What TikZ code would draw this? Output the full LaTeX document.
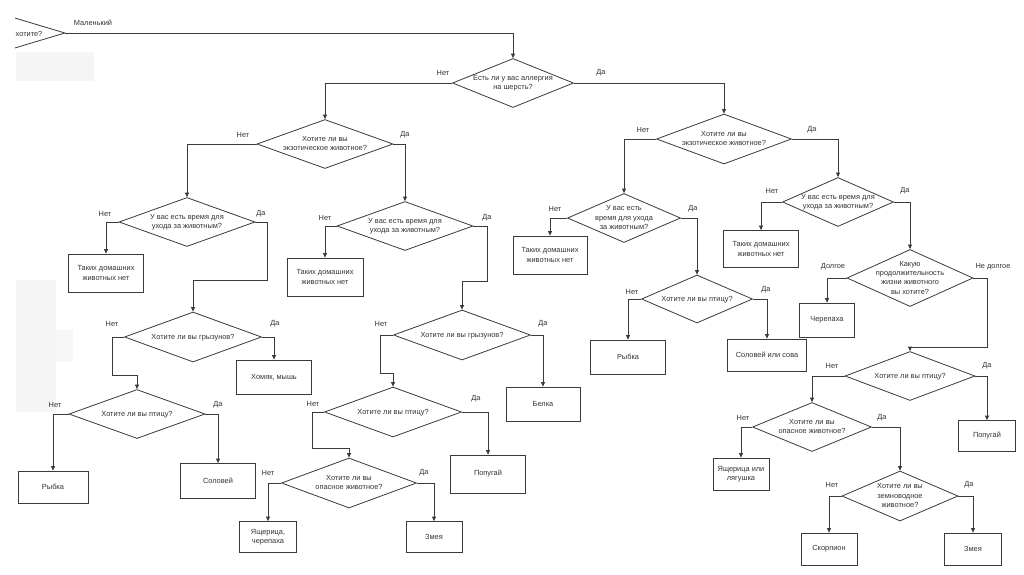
\documentclass[tikz,border=0pt]{standalone}
\usepackage{fontspec}
\setmainfont{Liberation Sans}
\usetikzlibrary{shapes.geometric,arrows.meta}
\definecolor{lc}{HTML}{3A3A3A}
\definecolor{tc}{HTML}{333333}
\newcommand{\dq}[1]{\makebox[0pt]{\smash{\raisebox{-2pt}{\begin{tabular}{@{}c@{}}#1\end{tabular}}}}}
\tikzset{
  dec/.style={diamond, draw=lc, fill=white, line width=0.8pt, inner sep=0pt, text=tc},
  res/.style={rectangle, draw=lc, fill=white, line width=0.8pt, inner sep=0pt, align=center, text=tc},
  lab/.style={inner sep=0pt, text=tc},
  con/.style={draw=lc, line width=0.8pt, -{Triangle[length=4.5pt,width=4pt]}},
  patch/.style={fill=black!4, draw=none}
}
\begin{document}
\begin{tikzpicture}[x=1pt,y=-1pt,font=\fontsize{7.4}{9.3}\selectfont]
\useasboundingbox (0,0) rectangle (1024,574);
\fill[white] (0,0) rectangle (1024,574);
% faint patches
\fill[patch] (16,52) rectangle (94,81);
\fill[patch] (16,280) rectangle (56,412);
\fill[black!3] (56,330) rectangle (73,362);

% partial first question
\begin{scope}
\clip (15,0) rectangle (200,100);
\node[dec, minimum width=166pt, minimum height=50pt] (d0) at (-18,33) {};
\end{scope}
\node[lab] (t0) at (29,34) {хотите?};

% diamonds
\node[dec, minimum width=121pt, minimum height=49pt] (d1) at (513,83) {\dq{Есть ли у вас аллергия\\на шерсть?}};
\node[dec, minimum width=136pt, minimum height=49pt] (d2) at (325,144) {\dq{Хотите ли вы\\экзотическое животное?}};
\node[dec, minimum width=136pt, minimum height=49pt] (d4) at (187,222) {\dq{У вас есть время для\\ухода за животным?}};
\node[dec, minimum width=136pt, minimum height=49pt] (d5) at (405,226) {\dq{У вас есть время для\\ухода за животным?}};
\node[dec, minimum width=137pt, minimum height=50pt] (d6) at (193,337) {\dq{Хотите ли вы грызунов?}};
\node[dec, minimum width=136pt, minimum height=49pt] (d7) at (137,414) {\dq{Хотите ли вы птицу?}};
\node[dec, minimum width=137pt, minimum height=50pt] (d8) at (462,335) {\dq{Хотите ли вы грызунов?}};
\node[dec, minimum width=137pt, minimum height=50pt] (d9) at (393,412) {\dq{Хотите ли вы птицу?}};
\node[dec, minimum width=135pt, minimum height=50pt] (d10) at (349,483) {\dq{Хотите ли вы\\опасное животное?}};
\node[dec, minimum width=135pt, minimum height=50pt] (d11) at (724,139) {\dq{Хотите ли вы\\экзотическое животное?}};
\node[dec, minimum width=113pt, minimum height=49pt] (d12) at (624,218) {\dq{У вас есть\\время для ухода\\за животным?}};
\node[dec, minimum width=111pt, minimum height=48pt] (d13) at (697,299) {\dq{Хотите ли вы птицу?}};
\node[dec, minimum width=111pt, minimum height=49pt] (d14) at (838,202) {\dq{У вас есть время для\\ухода за животным?}};
\node[dec, minimum width=126pt, minimum height=57pt] (d15) at (910,278) {\dq{Какую\\продолжительность\\жизни животного\\вы хотите?}};
\node[dec, minimum width=130pt, minimum height=49pt] (d16) at (910,376) {\dq{Хотите ли вы птицу?}};
\node[dec, minimum width=119pt, minimum height=49pt] (d17) at (812,427) {\dq{Хотите ли вы\\опасное животное?}};
\node[dec, minimum width=116pt, minimum height=50pt] (d18) at (900,496) {\dq{Хотите ли вы\\земноводное\\животное?}};

% result boxes
\node[res, minimum width=75pt, minimum height=38pt] (b4n) at (106,273) {Таких домашних\\животных нет};
\node[res, minimum width=76pt, minimum height=38pt] (b5n) at (325,277) {Таких домашних\\животных нет};
\node[res, minimum width=75pt, minimum height=34pt] (b6y) at (274,377) {Хомяк, мышь};
\node[res, minimum width=70pt, minimum height=32pt] (b7n) at (53,487) {Рыбка};
\node[res, minimum width=75pt, minimum height=35pt] (b7y) at (218,481) {Соловей};
\node[res, minimum width=74pt, minimum height=34pt] (b8y) at (543,404) {Белка};
\node[res, minimum width=75pt, minimum height=38pt] (b9y) at (488,474) {Попугай};
\node[res, minimum width=57pt, minimum height=31pt] (b10n) at (268,537) {Ящерица,\\черепаха};
\node[res, minimum width=56pt, minimum height=31pt] (b10y) at (434,537) {Змея};
\node[res, minimum width=74pt, minimum height=38pt] (b12n) at (550,255) {Таких домашних\\животных нет};
\node[res, minimum width=75pt, minimum height=34pt] (b13n) at (628,357) {Рыбка};
\node[res, minimum width=79pt, minimum height=32pt] (b13y) at (767,355) {Соловей или сова};
\node[res, minimum width=75pt, minimum height=37pt] (b14n) at (761,249) {Таких домашних\\животных нет};
\node[res, minimum width=55pt, minimum height=34pt] (b15n) at (827,320) {Черепаха};
\node[res, minimum width=57pt, minimum height=31pt] (b16y) at (987,436) {Попугай};
\node[res, minimum width=56pt, minimum height=32pt] (b17n) at (741,474) {Ящерица или\\лягушка};
\node[res, minimum width=56pt, minimum height=32pt] (b18n) at (829,549) {Скорпион};
\node[res, minimum width=57pt, minimum height=32pt] (b18y) at (973,549) {Змея};

% connectors
\draw[con] (d0.east) -| (d1.north);
\draw[con] (d1.west) -| (d2.north);
\draw[con] (d1.east) -| (d11.north);
\draw[con] (d2.west) -| (d4.north);
\draw[con] (d2.east) -| (d5.north);
\draw[con] (d4.west) -| (b4n.north);
\draw[con] (d4.east) -| (267,280) -| (d6.north);
\draw[con] (d5.west) -| (b5n.north);
\draw[con] (d5.east) -| (487,281) -| (d8.north);
\draw[con] (d6.east) -| (b6y.north);
\draw[con] (d6.west) -| (112,375) -| (d7.north);
\draw[con] (d7.west) -| (b7n.north);
\draw[con] (d7.east) -| (b7y.north);
\draw[con] (d8.east) -| (b8y.north);
\draw[con] (d8.west) -| (380,373) -| (d9.north);
\draw[con] (d9.east) -| (b9y.north);
\draw[con] (d9.west) -| (312,448) -| (d10.north);
\draw[con] (d10.west) -| (b10n.north);
\draw[con] (d10.east) -| (b10y.north);
\draw[con] (d11.west) -| (d12.north);
\draw[con] (d11.east) -| (d14.north);
\draw[con] (d12.west) -| (b12n.north);
\draw[con] (d12.east) -| (d13.north);
\draw[con] (d13.west) -| (b13n.north);
\draw[con] (d13.east) -| (b13y.north);
\draw[con] (d14.west) -| (b14n.north);
\draw[con] (d14.east) -| (d15.north);
\draw[con] (d15.west) -| (b15n.north);
\draw[con] (d15.east) -| (987,347) -| (d16.north);
\draw[con] (d16.east) -| (b16y.north);
\draw[con] (d16.west) -| (d17.north);
\draw[con] (d17.west) -| (b17n.north);
\draw[con] (d17.east) -| (d18.north);
\draw[con] (d18.west) -| (b18n.north);
\draw[con] (d18.east) -| (b18y.north);

% branch labels
\node[lab] (l0) at (93,23) {Маленький};
\node[lab] (l1) at (443,73) {Нет};
\node[lab] (l2) at (601,73) {Да};
\node[lab] (l3) at (243,135) {Нет};
\node[lab] (l4) at (405,135) {Да};
\node[lab] (l5) at (105,214) {Нет};
\node[lab] (l6) at (261,214) {Да};
\node[lab] (l7) at (325,218) {Нет};
\node[lab] (l8) at (487,218) {Да};
\node[lab] (l9) at (112,324) {Нет};
\node[lab] (l10) at (275,324) {Да};
\node[lab] (l11) at (55,405) {Нет};
\node[lab] (l12) at (218,405) {Да};
\node[lab] (l13) at (381,324) {Нет};
\node[lab] (l14) at (543,324) {Да};
\node[lab] (l15) at (313,404) {Нет};
\node[lab] (l16) at (476,399) {Да};
\node[lab] (l17) at (268,473) {Нет};
\node[lab] (l18) at (424,473) {Да};
\node[lab] (l19) at (643,130) {Нет};
\node[lab] (l20) at (812,130) {Да};
\node[lab] (l21) at (555,209) {Нет};
\node[lab] (l22) at (693,209) {Да};
\node[lab] (l23) at (632,292) {Нет};
\node[lab] (l24) at (766,290) {Да};
\node[lab] (l25) at (772,191) {Нет};
\node[lab] (l26) at (905,191) {Да};
\node[lab] (l27) at (833,267) {Долгое};
\node[lab] (l28) at (993,267) {Не долгое};
\node[lab] (l29) at (832,366) {Нет};
\node[lab] (l30) at (987,366) {Да};
\node[lab] (l31) at (743,418) {Нет};
\node[lab] (l32) at (882,418) {Да};
\node[lab] (l33) at (832,485) {Нет};
\node[lab] (l34) at (969,485) {Да};
\end{tikzpicture}
\end{document}
